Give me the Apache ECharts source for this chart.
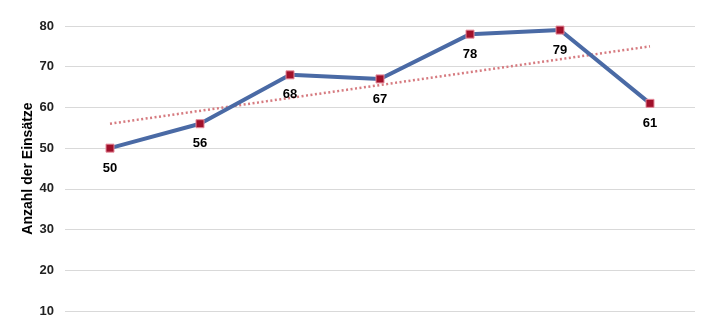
<!DOCTYPE html>
<html><head><meta charset="utf-8">
<script src="https://cdn.jsdelivr.net/npm/echarts@6/dist/echarts.min.js"></script>
<style>html,body{margin:0;padding:0;background:#fff}#c{width:710px;height:320px}</style>
</head><body><div id="c"></div>
<script>
const categories = ['1','2','3','4','5','6','7'];
const values = [50, 56, 68, 67, 78, 79, 61];
const trendValues = [56, null, null, null, null, null, 75];
const yTicks = {min: 10, max: 80, interval: 10};
const axisName = 'Anzahl der Einsätze';

const chart = echarts.init(document.getElementById('c'), null, {renderer: 'canvas'});
chart.setOption({
  animation: false,
  backgroundColor: '#fff',
  grid: {left: 65, right: 15, top: 26, bottom: 9},
  xAxis: {
    type: 'category', data: categories, boundaryGap: true,
    axisLine: {show: false}, axisTick: {show: false}, axisLabel: {show: false}
  },
  yAxis: {
    type: 'value', min: yTicks.min, max: yTicks.max, interval: yTicks.interval,
    name: axisName, nameLocation: 'middle', nameGap: 37, nameRotate: 90, nameMoveOverlap: false,
    nameTextStyle: {fontFamily: 'Liberation Sans', fontWeight: 'bold', fontSize: 14, color: '#000', verticalAlign: 'middle'},
    axisLine: {show: false}, axisTick: {show: false},
    axisLabel: {fontFamily: 'Liberation Sans', fontWeight: 'bold', fontSize: 13, color: '#222', margin: 11},
    splitLine: {lineStyle: {color: '#d9d9d9', width: 1}}
  },
  series: [
    {
      type: 'line', data: trendValues, connectNulls: true, symbol: 'none', z: 1,
      lineStyle: {color: '#d67b80', width: 2.5, type: [2, 2.5]}
    },
    {
      type: 'line', data: values, z: 2,
      lineStyle: {color: '#4a6aa5', width: 4},
      symbol: 'rect', symbolSize: 8,
      itemStyle: {color: '#a0102a', borderColor: '#e58a9a', borderWidth: 1},
      label: {show: true, position: 'bottom', distance: 9, fontFamily: 'Liberation Sans', fontWeight: 'bold', fontSize: 13, color: '#000'}
    }
  ]
});
</script></body></html>
